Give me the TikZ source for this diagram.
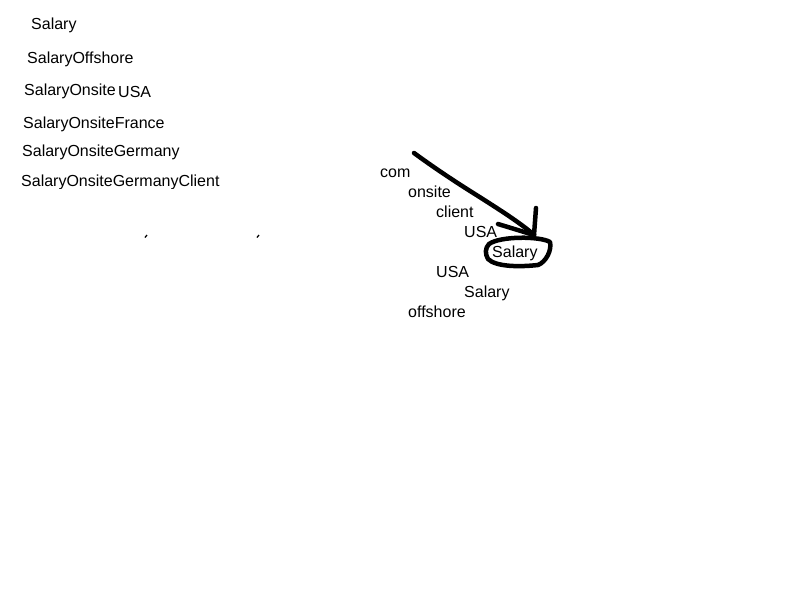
\documentclass[tikz,border=0pt]{standalone}
\usepackage{fontspec}
\setmainfont{Liberation Sans}
\usetikzlibrary{positioning}

\tikzset{
  label/.style={anchor=base west,inner sep=0pt,font=\fontsize{16}{18}\selectfont},
  pen/.style={line width=4.5pt,line cap=round,line join=round}
}

\begin{document}
\begin{tikzpicture}[x=1pt,y=-1pt]
    		\useasboundingbox (0,0) rectangle (800,600);
    		% Liste links
    		\node[label] (sal) at (31,29) {Salary};
    		\node[label] (salOff) at (27,63) {SalaryOffshore};
    		\node[label] (salOn) at (24,95) {SalaryOnsite};
    		\node[label] (usaL) at (118,97.5) {USA};
    		\node[label] (salFr) at (23,128.5) {SalaryOnsiteFrance};
    		\node[label] (salDe) at (22,156.5) {SalaryOnsiteGermany};
    		\begin{scope}
    		\clip (0,160) rectangle (300,188);
    		\node[label] (salDeCl) at (21,186.5) {SalaryOnsiteGermanyClient};
    		\end{scope}
    		% Reste einer verdeckten Zeile
    		\draw[line width=1.3pt] (145,237.5) -- (147,235);
    		\draw[line width=1.3pt] (257,237.5) -- (259,235);
    		
    		% Baum rechts
    		\node[label] (com) at (380,177.5) {com};
    		\node[label] (onsite) at (408,197.5) {onsite};
    		\node[label] (client) at (436,217) {client};
    		\node[label] (usaA) at (464,237) {USA};
    		\node[label] (salA) at (492,257) {Salary};
    		\node[label] (usaB) at (436,277) {USA};
    		\node[label] (salB) at (464,297) {Salary};
    		\node[label] (offshore) at (408,317) {offshore};
    		
    		% Pfeil von Hand
    		\coordinate (tip) at (534,235);
    		\draw[pen] (414,153) .. controls (440,172) and (462,186) .. (478,196) .. controls (500,210) and (522,224) .. (tip);
    		\draw[pen] (536,208) -- (tip);
    		\draw[pen] (498,224) -- (tip);
    		% Kreis um Salary
    		\draw[pen] (489,244) .. controls (500,236) and (540,236) .. (550,242)
    		  .. controls (552,250) and (546,262) .. (538,265)
    		  .. controls (520,267) and (496,267) .. (488,259)
    		  .. controls (485,254) and (485,248) .. (489,244) -- cycle;
\end{tikzpicture}
\end{document}
